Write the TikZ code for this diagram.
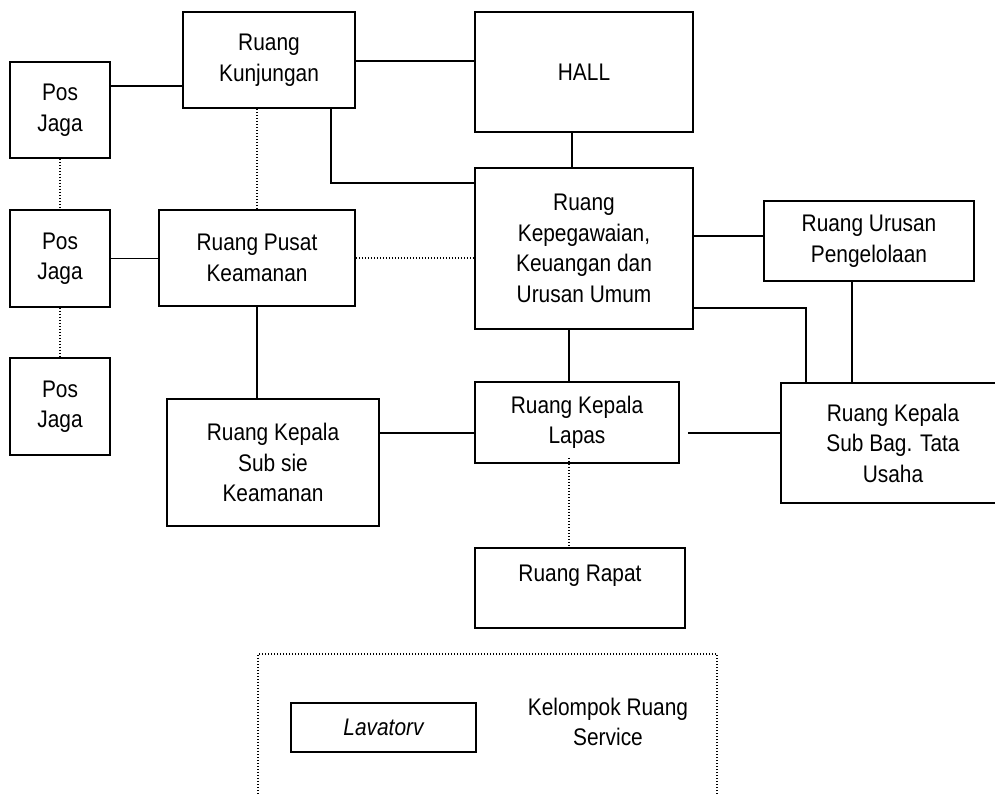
\documentclass[tikz,border=0pt]{standalone}
\usepackage{fontspec}
\setmainfont{Liberation Sans}[FakeStretch=0.87]
\usepackage{tikz}
\tikzset{
    room-box/.style = {draw=black, line width=1.6pt, rectangle, align=center, inner sep=2pt, font=\fontsize{24}{30.5}\selectfont},
    solid-link/.style = {draw=black, line width=1.6pt},
    dotted-link/.style = {draw=black, line width=1.1pt, dash pattern=on 1.1pt off 1.9pt},
}

\begin{document}
\begin{tikzpicture}[x=1pt, y=-1pt]
\useasboundingbox (0,0) rectangle (995,794);
\clip (0,0) rectangle (995,794);
% left column
\node [room-box, minimum width=100pt, minimum height=96pt] (pos-a) at (60,110) {Pos\\Jaga};
\node [room-box, minimum width=100pt, minimum height=97pt] (pos-b) at (60,258.5) {Pos\\Jaga};
\node [room-box, minimum width=100pt, minimum height=97pt] (pos-c) at (60,406.5) {Pos\\Jaga};
% middle column
\node [room-box, minimum width=172pt, minimum height=96pt] (kunjungan) at (269,60) {Ruang\\Kunjungan};
\node [room-box, minimum width=196pt, minimum height=96pt] (pusat) at (257,258) {Ruang Pusat\\Keamanan};
\node [room-box, minimum width=212pt, minimum height=127pt] (subsie) at (273,462.5) {Ruang Kepala\\Sub sie\\Keamanan};
% centre column
\node [room-box, minimum width=218pt, minimum height=120pt] (hall) at (584,72) {HALL};
\node [room-box, minimum width=218pt, minimum height=161pt] (kepegawaian) at (584,248.5) {Ruang\\Kepegawaian,\\Keuangan dan\\Urusan Umum};
\node [room-box, minimum width=204pt, minimum height=81pt] (lapas) at (577,422.5) {Ruang Kepala\\Lapas};
\node [room-box, minimum width=210pt, minimum height=80pt] (rapat) at (580,588) {Ruang Rapat\\\mbox{}};
% right column
\node [room-box, minimum width=210pt, minimum height=80pt] (pengelolaan) at (869,241) {Ruang Urusan\\Pengelolaan};
\node [room-box, minimum width=224pt, minimum height=120pt] (tatausaha) at (893,443) {Ruang Kepala\\Sub Bag. Tata\\Usaha};
% service group
\node [dotted-link, rectangle, minimum width=459pt, minimum height=170pt] (service) at (487.5,739) {};
\node [room-box, minimum width=185pt, minimum height=49pt, font=\fontsize{24}{30.5}\selectfont\itshape] (lavatory) at (383.5,727.5) {Lavatorv};
\node [align=center, font=\fontsize{24}{30.5}\selectfont] (service-label) at (608,722) {Kelompok Ruang\\Service};

% solid links
\draw [solid-link] (pos-a.east |- 0,86) -- (kunjungan.west |- 0,86);
\draw [solid-link] (kunjungan.east |- 0,61) -- (hall.west |- 0,61);
\draw [solid-link] (331,0 |- kunjungan.south) |- (kepegawaian.west |- 0,183);
\draw [solid-link] (pos-b.east) -- (pusat.west |- pos-b.east);
\draw [solid-link] (pusat.south) -- (pusat.south |- subsie.north);
\draw [solid-link] (subsie.east |- 0,433) -- (lapas.west |- 0,433);
\draw [solid-link] (572,0 |- hall.south) -- (572,0 |- kepegawaian.north);
\draw [solid-link] (kepegawaian.east |- 0,236) -- (pengelolaan.west |- 0,236);
\draw [solid-link] (569,0 |- kepegawaian.south) -- (569,0 |- lapas.north);
\draw [solid-link] (kepegawaian.east |- 0,308) -| (806,0 |- tatausaha.north);
\draw [solid-link] (852,0 |- pengelolaan.south) -- (852,0 |- tatausaha.north);
\draw [solid-link, shorten <=8pt] (lapas.east |- 0,433) -- (tatausaha.west |- 0,433);

% dotted links
\draw [dotted-link] (pos-a.south) -- (pos-b.north);
\draw [dotted-link] (pos-b.south) -- (pos-c.north);
\draw [dotted-link] (kunjungan.south -| pusat.north) -- (pusat.north);
\draw [dotted-link] (pusat.east) -- (kepegawaian.west |- pusat.east);
\draw [dotted-link, shorten <=-6pt] (569,0 |- lapas.south) -- (569,0 |- rapat.north);
\end{tikzpicture}
\end{document}
